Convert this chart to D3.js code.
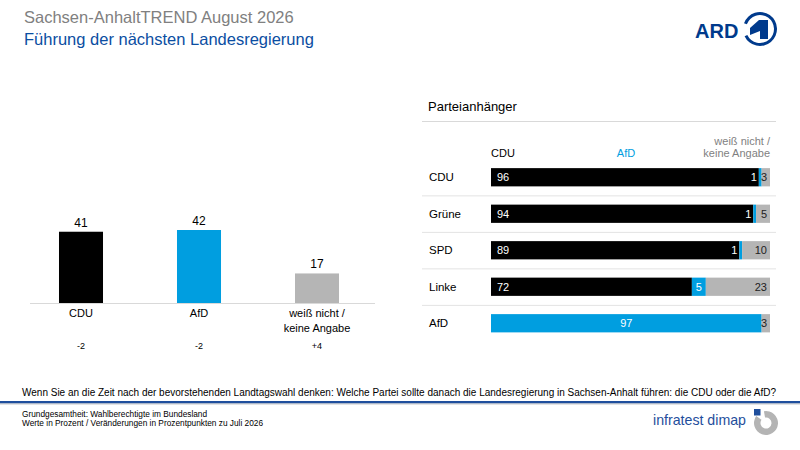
<!DOCTYPE html>
<html lang="de">
<head>
<meta charset="utf-8">
<title>Sachsen-AnhaltTREND August 2026</title>
<script src="https://d3js.org/d3.v7.min.js"></script>
<style>
  body { margin: 0; background: #fff; }
  svg text { font-family: "Liberation Sans", Arial, sans-serif; }
</style>
</head>
<body>
<svg id="chart" width="800" height="450"></svg>
<script>

// data **********************************
const totalCats = ["CDU", "AfD", "weiß nicht /\nkeine Angabe"];
const totalValues = [41, 42, 17];
const totalChanges = ["-2", "-2", "+4"];

const groups = ["CDU", "Grüne", "SPD", "Linke", "AfD"];
const prefCDU = [96, 94, 89, 72, 0];
const prefAfD = [1, 1, 1, 5, 97];
const prefNone = [3, 5, 10, 23, 3];
const prefKeys = ["CDU", "AfD", "weiß nicht /\nkeine Angabe"];

const colBlack = "#000000", colBlue = "#009ee0", colGray = "#b5b5b5";
const colors = [colBlack, colBlue, colGray];

const svg = d3.select("#chart");

// header
svg.append("text").attr("x", 24).attr("y", 23)
  .attr("font-size", 16.5).attr("fill", "#808080")
  .text("Sachsen-AnhaltTREND August 2026");
svg.append("text").attr("x", 24).attr("y", 45)
  .attr("font-size", 16.5).attr("fill", "#0b4ea2")
  .text("Führung der nächsten Landesregierung");

// ARD logo
const ard = svg.append("g");
ard.append("text").attr("x", 695).attr("y", 38)
  .attr("font-size", 20).attr("font-weight", "bold").attr("fill", "#003a8c")
  .text("ARD");
ard.append("path")
  .attr("transform", "translate(760,29)")
  .attr("d", d3.arc().innerRadius(14).outerRadius(17)
    .startAngle(-70 * Math.PI / 180).endAngle(245 * Math.PI / 180)())
  .attr("fill", "#003a8c");
ard.append("path")
  .attr("d", "M750,28 L759,20 L768,20 L768,39 L760,39 L760,31 L750,35 Z")
  .attr("fill", "#003a8c");

// left chart: totals ********************
const xL = d3.scaleBand().domain(totalCats).range([22, 376])
  .paddingInner(0.627).paddingOuter(0.3135);
const yL = d3.scaleLinear().domain([0, 42]).range([303, 230]);

const left = svg.append("g");
left.selectAll("rect").data(totalValues).join("rect")
  .attr("x", (d, i) => xL(totalCats[i]))
  .attr("y", d => yL(d))
  .attr("width", xL.bandwidth())
  .attr("height", d => yL(0) - yL(d))
  .attr("fill", (d, i) => colors[i]);

left.append("line").attr("x1", 30).attr("x2", 375)
  .attr("y1", yL(0) + 0.5).attr("y2", yL(0) + 0.5)
  .attr("stroke", "#d9d9d9");

left.selectAll("text.val").data(totalValues).join("text")
  .attr("class", "val")
  .attr("x", (d, i) => xL(totalCats[i]) + xL.bandwidth() / 2)
  .attr("y", d => yL(d) - 5)
  .attr("text-anchor", "middle").attr("font-size", 12).attr("fill", "#000")
  .text(d => d);

totalCats.forEach((c, i) => {
  const t = left.append("text")
    .attr("x", xL(c) + xL.bandwidth() / 2).attr("y", yL(0) + 14)
    .attr("text-anchor", "middle").attr("font-size", 11).attr("fill", "#000");
  c.split("\n").forEach((line, j) => {
    t.append("tspan").attr("x", xL(c) + xL.bandwidth() / 2)
      .attr("dy", j ? 15 : 0).text(line);
  });
  left.append("text")
    .attr("x", xL(c) + xL.bandwidth() / 2).attr("y", yL(0) + 46)
    .attr("text-anchor", "middle").attr("font-size", 9).attr("fill", "#000")
    .text(totalChanges[i]);
});

// right chart: Parteianhänger ***********
const right = svg.append("g");
right.append("text").attr("x", 428).attr("y", 111)
  .attr("font-size", 13).attr("fill", "#000").text("Parteianhänger");
right.append("line").attr("x1", 422).attr("x2", 776)
  .attr("y1", 121.5).attr("y2", 121.5).attr("stroke", "#d9d9d9");

const xR = d3.scaleLinear().domain([0, 100]).range([491, 770]);
const yR = d3.scaleBand().domain(groups).range([159, 341.5])
  .paddingInner(0.5).paddingOuter(0.25);

// column headers
right.append("text").attr("x", 503).attr("y", 157).attr("text-anchor", "middle")
  .attr("font-size", 11).attr("fill", "#000").text(prefKeys[0]);
right.append("text").attr("x", 626).attr("y", 157).attr("text-anchor", "middle")
  .attr("font-size", 11).attr("fill", colBlue).text(prefKeys[1]);
prefKeys[2].split("\n").forEach((line, j) => {
  right.append("text").attr("x", 770).attr("y", 145 + j * 12)
    .attr("text-anchor", "end").attr("font-size", 11).attr("fill", "#7f7f7f")
    .text(line);
});

const rows = groups.map((g, i) => {
  const vals = [prefCDU[i], prefAfD[i], prefNone[i]];
  let acc = 0;
  const segs = vals.map((v, k) => {
    const s = { key: k, value: v, x0: acc, x1: acc + v };
    acc += v;
    return s;
  });
  return { group: g, segs: segs, last: i === groups.length - 1 };
});

const row = right.selectAll("g.row").data(rows).join("g").attr("class", "row");

row.append("text")
  .attr("x", 429).attr("y", d => yR(d.group) + yR.bandwidth() / 2 + 4)
  .attr("font-size", 11.5).attr("fill", "#000").text(d => d.group);

row.filter(d => !d.last).append("line")
  .attr("x1", 422).attr("x2", 776)
  .attr("y1", d => yR(d.group) + yR.bandwidth() + 9.5)
  .attr("y2", d => yR(d.group) + yR.bandwidth() + 9.5)
  .attr("stroke", "#e3e3e3");

row.each(function(r) {
  const g = d3.select(this);
  const y0 = yR(r.group), h = yR.bandwidth();
  const segs = r.segs.filter(s => s.value > 0);
  g.selectAll("rect").data(segs).join("rect")
    .attr("x", s => xR(s.x0)).attr("y", y0)
    .attr("width", s => xR(s.x1) - xR(s.x0)).attr("height", h)
    .attr("fill", s => colors[s.key]);
  g.selectAll("text.seg").data(segs).join("text")
    .attr("class", "seg")
    .attr("y", y0 + h / 2 + 4)
    .attr("font-size", 11)
    .attr("x", s => {
      const w = xR(s.x1) - xR(s.x0);
      if (s.key === 0) return xR(s.x0) + 6;
      if (s.key === 1) return w < 12 ? xR(s.x0) - 2 : (xR(s.x0) + xR(s.x1)) / 2;
      return xR(s.x1) - 3;
    })
    .attr("text-anchor", s => {
      const w = xR(s.x1) - xR(s.x0);
      if (s.key === 0) return "start";
      if (s.key === 1) return w < 12 ? "end" : "middle";
      return "end";
    })
    .attr("fill", s => s.key === 2 ? "#222" : "#fff")
    .text(s => s.value);
});

// footer ********************************
svg.append("text").attr("x", 22).attr("y", 396)
  .attr("font-size", 10).attr("fill", "#000")
  .text("Wenn Sie an die Zeit nach der bevorstehenden Landtagswahl denken: Welche Partei sollte danach die Landesregierung in Sachsen-Anhalt führen: die CDU oder die AfD?");
svg.append("rect").attr("x", 0).attr("y", 401).attr("width", 800).attr("height", 2.5)
  .attr("fill", "#1f4e9c");
svg.append("rect").attr("x", 0).attr("y", 403.5).attr("width", 800).attr("height", 1)
  .attr("fill", "#c8c8c8");
svg.append("text").attr("x", 22).attr("y", 417)
  .attr("font-size", 8.3).attr("fill", "#000")
  .text("Grundgesamtheit: Wahlberechtigte im Bundesland");
svg.append("text").attr("x", 22).attr("y", 426)
  .attr("font-size", 8.3).attr("fill", "#000")
  .text("Werte in Prozent / Veränderungen in Prozentpunkten zu Juli 2026");

// infratest dimap logo
svg.append("text").attr("x", 653).attr("y", 425)
  .attr("font-size", 15).attr("fill", "#1f4e9c")
  .attr("textLength", 93).attr("lengthAdjust", "spacingAndGlyphs")
  .text("infratest dimap");
svg.append("rect").attr("x", 754).attr("y", 409).attr("width", 6.5).attr("height", 6.5)
  .attr("fill", "#1f4e9c");
svg.append("path")
  .attr("transform", "translate(766,423)")
  .attr("d", d3.arc().innerRadius(5.5).outerRadius(12)
    .startAngle(-10 * Math.PI / 180).endAngle(305 * Math.PI / 180)())
  .attr("fill", "#b4b4b4");

</script>
</body>
</html>
